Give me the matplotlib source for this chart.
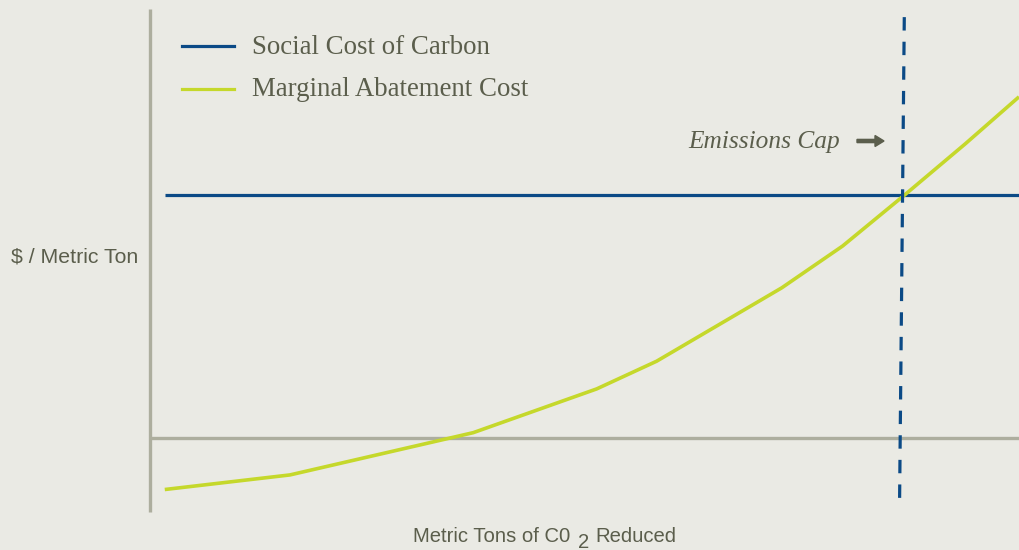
import matplotlib
matplotlib.use("Agg")
import matplotlib.pyplot as plt
from matplotlib.lines import Line2D

# ---- data (x: share of reduction, y: $ / metric ton) ----
mac_x = [1.7, 16.1, 37.2, 51.4, 58.3, 72.7, 79.7, 86.7, 93.8, 100.0]
mac_y = [-10.6, -7.6, 1.1, 10.1, 15.8, 30.9, 39.5, 49.8, 60.5, 70.2]
scc_x = [1.7, 100.0]
scc_y = [50.0, 50.0]
cap_x = [86.8, 86.25]
cap_y = [86.6, -14.4]
legend_labels = ["Social Cost of Carbon", "Marginal Abatement Cost"]

BG = "#EAEAE4"
BLUE = "#0B4A86"
GREEN = "#C5D82B"
AXIS = "#ADAE9E"
TEXT = "#5B5E4C"

W, H = 1019, 550
fig = plt.figure(figsize=(W / 100, H / 100), dpi=100, facecolor=BG)
left, right, top, bottom = 150, 1019, 9, 512
ax = fig.add_axes([left / W, (H - bottom) / H, (right - left) / W, (bottom - top) / H])
ax.set_facecolor(BG)
ax.set_xlim(0, 100)
ax.set_ylim(-(bottom - 438) / 4.86, (438 - top) / 4.86)
for s in ax.spines.values():
    s.set_visible(False)
ax.set_xticks([])
ax.set_yticks([])

# axes lines
ax.axvline(0, color=AXIS, lw=2.4, solid_capstyle="butt", clip_on=False)
ax.axhline(0, color=AXIS, lw=2.4, solid_capstyle="butt")

ax.plot(scc_x, scc_y, color=BLUE, lw=2.3, solid_capstyle="butt")
ax.plot(mac_x, mac_y, color=GREEN, lw=2.6, solid_capstyle="butt", zorder=3)
ax.plot(cap_x, cap_y, color=BLUE, lw=2.3, ls=(0, (4.2, 3.5)), zorder=4)

# legend (manual)
serif = ["Liberation Serif", "DejaVu Serif"]
for i, (lab, col) in enumerate(zip(legend_labels, [BLUE, GREEN])):
    yy = 47 + i * 43
    fig.add_artist(Line2D([182 / W, 234 / W], [1 - 46 / H - i * 43 / H] * 2, color=col, lw=2.3))
    fig.text(252 / W, 1 - yy / H, lab, family=serif, fontsize=19.4, color=TEXT,
             va="center", ha="left")

fig.text(840 / W, 1 - 142 / H, "Emissions Cap", family=serif, style="italic",
         fontsize=18.3, color=TEXT, va="center", ha="right")
# arrow
fig.add_artist(matplotlib.patches.FancyArrow(857 / W, 1 - 141 / H, 18 / W, 0,
               width=3.2 / H, head_width=11 / H, head_length=9 / W,
               length_includes_head=False, color=TEXT, transform=fig.transFigure))

sans = ["Liberation Sans", "DejaVu Sans"]
fig.text(138 / W, 1 - 257 / H, "$ / Metric Ton", family=sans, fontsize=15.3,
         color=TEXT, va="center", ha="right")

# x label with subscript, pieces chained
fig.canvas.draw()
r = fig.canvas.get_renderer()
t1 = fig.text(413 / W, 1 - 536 / H, "Metric Tons of C0", family=sans,
              fontsize=14.6, color=TEXT, va="center", ha="left")
e1 = t1.get_window_extent(r)
t2 = fig.text((e1.x1 + 8) / W, 1 - 542 / H, "2", family=sans,
              fontsize=14.6, color=TEXT, va="center", ha="left")
e2 = t2.get_window_extent(r)
fig.text((e2.x1 + 6) / W, 1 - 536 / H, "Reduced", family=sans,
         fontsize=14.6, color=TEXT, va="center", ha="left")

fig.savefig("out.png", dpi=100, facecolor=BG)
